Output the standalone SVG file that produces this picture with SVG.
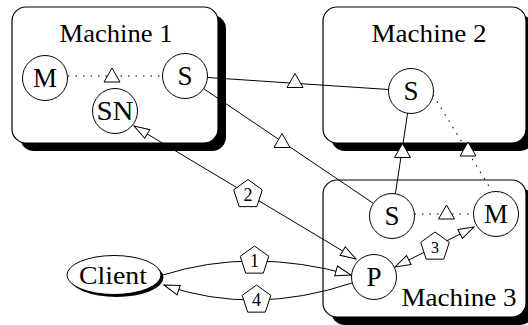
<svg xmlns="http://www.w3.org/2000/svg" xmlns:xlink="http://www.w3.org/1999/xlink" width="528" height="325" viewBox="0 0 528 325">
<style>
.box{fill:#fff;stroke:#000;stroke-width:1.2}
.shadow{fill:#000;stroke:none}
.node{fill:#fff;stroke:#000;stroke-width:1}
.edge{fill:none;stroke:#000;stroke-width:1}
.dot{fill:none;stroke:#000;stroke-width:1.1;stroke-dasharray:1.5 6}
.deco{fill:#fff;stroke:#000;stroke-width:1}
.big{font-family:"Liberation Serif","Times New Roman",serif;font-size:25px;fill:#000;text-anchor:middle}
.lbl{font-family:"Liberation Serif","Times New Roman",serif;font-size:27px;fill:#000;text-anchor:middle}
.small{font-family:"Liberation Serif","Times New Roman",serif;font-size:18px;fill:#000;text-anchor:middle}
</style>
<defs>
<path id="tri" class="deco" d="M0,-8 L8,6 L-8,6 Z"/>
<path id="pent" class="deco" d="M0,-15 L14.27,-4.64 L8.82,12.14 L-8.82,12.14 L-14.27,-4.64 Z"/>
<marker id="arr" markerUnits="userSpaceOnUse" markerWidth="20" markerHeight="14" refX="16" refY="6" orient="auto-start-reverse" overflow="visible">
<path d="M0.5,1 L16,6 L0.5,11 Z" fill="#fff" stroke="#000" stroke-width="1"/>
</marker>
</defs>
<rect width="528" height="325" fill="#fff"/>

<g id="machine1">
<rect class="shadow" x="20" y="15" width="206" height="136" rx="14"/>
<rect class="box" x="12" y="7" width="206" height="136" rx="14"/>
<text class="big" x="116" y="42" textLength="113" lengthAdjust="spacingAndGlyphs">Machine 1</text>
</g>
<g id="machine2">
<rect class="shadow" x="331" y="15" width="203" height="136" rx="14"/>
<rect class="box" x="323" y="7" width="203" height="136" rx="14"/>
<text class="big" x="429" y="42" textLength="115" lengthAdjust="spacingAndGlyphs">Machine 2</text>
</g>
<g id="machine3">
<rect class="shadow" x="331" y="188" width="203" height="137" rx="14"/>
<rect class="box" x="323" y="180" width="203" height="137" rx="14"/>
<text class="big" x="459" y="306" textLength="115" lengthAdjust="spacingAndGlyphs">Machine 3</text>
</g>

<g id="connectors">
<line class="dot" x1="68" y1="76" x2="162" y2="76"/>
<use xlink:href="#tri" x="112" y="76"/>
<line class="edge" x1="207.5" y1="77.5" x2="388.5" y2="89.5"/>
<use xlink:href="#tri" x="295" y="81.5"/>
<line class="edge" x1="203.6" y1="88.6" x2="373.4" y2="203.4"/>
<use xlink:href="#tri" x="282" y="141.5"/>
<line class="edge" x1="407.6" y1="113.3" x2="395.4" y2="193.7"/>
<use xlink:href="#tri" x="402.5" y="151.5"/>
<line class="dot" x1="433" y1="95" x2="492" y2="191"/>
<use xlink:href="#tri" x="468" y="150"/>
<line class="dot" x1="414.5" y1="214" x2="473.5" y2="214"/>
<use xlink:href="#tri" x="446.5" y="213"/>
<line class="edge" x1="134" y1="126" x2="356" y2="259" marker-start="url(#arr)" marker-end="url(#arr)"/>
<use xlink:href="#pent" x="248" y="194.5"/>
<text class="small" x="248" y="200.5">2</text>
<line class="edge" x1="395" y1="267" x2="474" y2="227" marker-start="url(#arr)" marker-end="url(#arr)"/>
<use xlink:href="#pent" x="435" y="247"/>
<text class="small" x="435" y="253" style="font-size:16px">3</text>
<path class="edge" d="M163,275 Q251,247 351,275" marker-end="url(#arr)"/>
<use xlink:href="#pent" x="254.5" y="261"/>
<text class="small" x="254.5" y="267">1</text>
<path class="edge" d="M352,283 Q253,316 164,285" marker-end="url(#arr)"/>
<use xlink:href="#pent" x="256.5" y="300"/>
<text class="small" x="256.5" y="306">4</text>
</g>

<g id="m1">
<circle class="node" cx="45" cy="78" r="22.5"/>
<text class="lbl" x="45" y="87">M</text>
</g>
<g id="s1">
<circle class="node" cx="185" cy="76" r="22.5"/>
<text class="lbl" x="185" y="85">S</text>
</g>
<g id="sn">
<circle class="node" cx="115" cy="111" r="22.5"/>
<text class="lbl" x="115" y="120" textLength="37" lengthAdjust="spacingAndGlyphs">SN</text>
</g>
<g id="s2">
<circle class="node" cx="411" cy="91" r="22.5"/>
<text class="lbl" x="411" y="100">S</text>
</g>
<g id="s3">
<circle class="node" cx="392" cy="216" r="22.5"/>
<text class="lbl" x="392" y="225">S</text>
</g>
<g id="m3">
<circle class="node" cx="496" cy="214" r="22.5"/>
<text class="lbl" x="496" y="223">M</text>
</g>
<g id="p">
<circle class="node" cx="374" cy="277" r="22.5"/>
<text class="lbl" x="374" y="286">P</text>
</g>
<g id="client">
<ellipse class="shadow" cx="116.5" cy="277.5" rx="47" ry="19.5"/>
<ellipse class="node" cx="114" cy="275" rx="47" ry="19.5"/>
<text class="big" x="113" y="284" textLength="68" lengthAdjust="spacingAndGlyphs">Client</text>
</g>
</svg>
